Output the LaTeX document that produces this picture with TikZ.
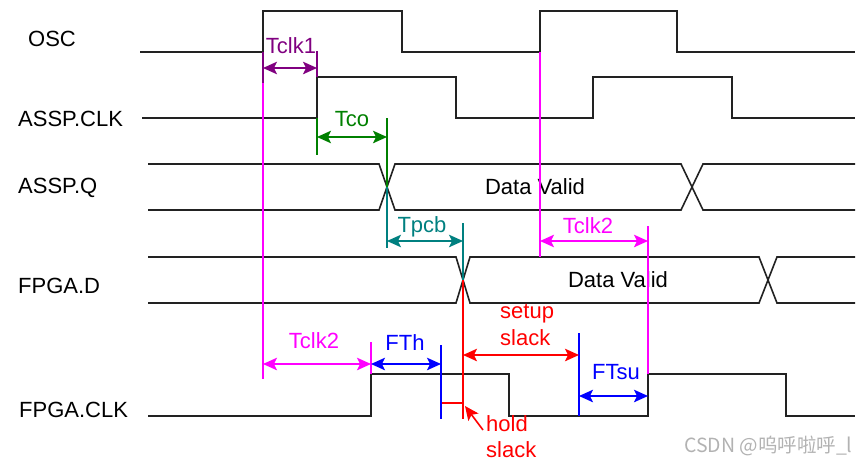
\documentclass[tikz,border=0pt]{standalone}
\usepackage{fontspec}
\setmainfont{Liberation Sans}
\newfontfamily\cjkfont{Noto Sans CJK SC}
\usetikzlibrary{arrows.meta}
\definecolor{tclkpurple}{RGB}{128,0,128}
\definecolor{tcogreen}{RGB}{0,128,0}
\definecolor{tpcbteal}{RGB}{0,128,128}
\definecolor{clkmagenta}{RGB}{255,0,255}
\definecolor{wavegray}{RGB}{34,34,34}

\begin{document}
\begin{tikzpicture}[x=1pt,y=-1pt,
        font=\fontsize{22}{26.5}\selectfont,
        >={Stealth[length=14pt,width=12.5pt,inset=3pt]},
        wave/.style={line width=1.6pt,wavegray},
        edgeline/.style={line width=1.6pt},
        dim/.style={line width=1.6pt,<->},
        every node/.style={inner sep=0pt,anchor=base}]

    \useasboundingbox (0,0) rectangle (865,463);

    % signal names
    \node[anchor=base west] (osc) at (28,46) {OSC};
    \node[anchor=base west] (asspclk) at (18,126) {ASSP.CLK};
    \node[anchor=base west] (asspq) at (18,193) {ASSP.Q};
    \node[anchor=base west] (fpgad) at (18,293) {FPGA.D};
    \node[anchor=base west] (fpgaclk) at (19,417) {FPGA.CLK};

    % clocks
    \draw[wave] (140,52) -| (263,11) -| (402,52) -| (540,11) -| (677,52) -- (855,52);
    \draw[wave] (142,118) -| (317,77) -| (456,118) -| (593,77) -| (732,118) -- (855,118);
    \draw[wave] (148,416) -| (371,374) -| (509,416) -| (648,374) -| (786,416) -- (855,416);

    % data buses
    \draw[wave] (148,164) -- (379,164) -- (395,210) -- (681,210) -- (703,164) -- (855,164);
    \draw[wave] (148,210) -- (379,210) -- (395,164) -- (681,164) -- (703,210) -- (855,210);
    \draw[wave] (148,257) -- (456,257) -- (470,303) -- (759,303) -- (777,257) -- (855,257);
    \draw[wave] (148,303) -- (456,303) -- (470,257) -- (759,257) -- (777,303) -- (855,303);
    \node (qvalid) at (535,194) {Data Valid};
    \node (dvalid) at (618,287) {Data Valid};

    % edge markers
    \draw[edgeline,tclkpurple] (263,52) -- (263,83) (317,51) -- (317,77);
    \draw[edgeline,clkmagenta] (263,83) -- (263,379) (371,342) -- (371,374);
    \draw[edgeline,clkmagenta] (540,52) -- (540,257) (648,226) -- (648,374);
    \draw[edgeline,tcogreen] (317,118) -- (317,155) (387,118) -- (387,187);
    \draw[edgeline,tpcbteal] (387,187) -- (387,248) (463,223) -- (463,280);
    \draw[edgeline,red] (463,280) -- (463,419) (441,403) -- (463,403);
    \draw[edgeline,blue] (441,345) -- (441,419) (579,333) -- (579,416);

    % dimension ends
    \coordinate (tclk1a) at (263,68);   \coordinate (tclk1b) at (317,68);
    \coordinate (tcoa) at (317,137);    \coordinate (tcob) at (387,137);
    \coordinate (tpcba) at (387,241);   \coordinate (tpcbb) at (463,241);
    \coordinate (tclk2a) at (540,241);  \coordinate (tclk2b) at (648,241);
    \coordinate (tclk2c) at (263,364);  \coordinate (tclk2d) at (371,364);
    \coordinate (ftha) at (371,364);    \coordinate (fthb) at (441,364);
    \coordinate (setupa) at (463,355);  \coordinate (setupb) at (579,355);
    \coordinate (ftsua) at (579,396);   \coordinate (ftsub) at (648,396);
    \coordinate (holdtail) at (483,430); \coordinate (holdtip) at (465,406);

    \draw[dim,tclkpurple] (tclk1a) -- (tclk1b);
    \draw[dim,tcogreen] (tcoa) -- (tcob);
    \draw[dim,tpcbteal] (tpcba) -- (tpcbb);
    \draw[dim,clkmagenta] (tclk2a) -- (tclk2b);
    \draw[dim,clkmagenta] (tclk2c) -- (tclk2d);
    \draw[dim,blue] (ftha) -- (fthb);
    \draw[dim,red] (setupa) -- (setupb);
    \draw[dim,blue] (ftsua) -- (ftsub);
    \draw[edgeline,red,->] (holdtail) -- (holdtip);

    % labels
    \node[text=tclkpurple] (tclk1) at (291,53) {Tclk1};
    \node[text=tcogreen] (tco) at (352,126) {Tco};
    \node[text=tpcbteal] (tpcb) at (422,232) {Tpcb};
    \node[text=clkmagenta] (tclk2top) at (588,233) {Tclk2};
    \node[text=clkmagenta] (tclk2bot) at (314,348) {Tclk2};
    \node[text=blue] (fth) at (405,350) {FTh};
    \node[text=blue] (ftsu) at (616,379) {FTsu};
    \node[text=red,anchor=north west,align=left] (setup) at (500,304.5) {setup\\slack};
    \node[text=red,anchor=north west,align=left] (hold) at (486,415) {hold\\slack};

    \node[anchor=base west,text=gray!60,font=\cjkfont\fontsize{19.5}{22}\selectfont] (mark) at (684,452) {CSDN @呜呼啦呼\_l};
\end{tikzpicture}
\end{document}
